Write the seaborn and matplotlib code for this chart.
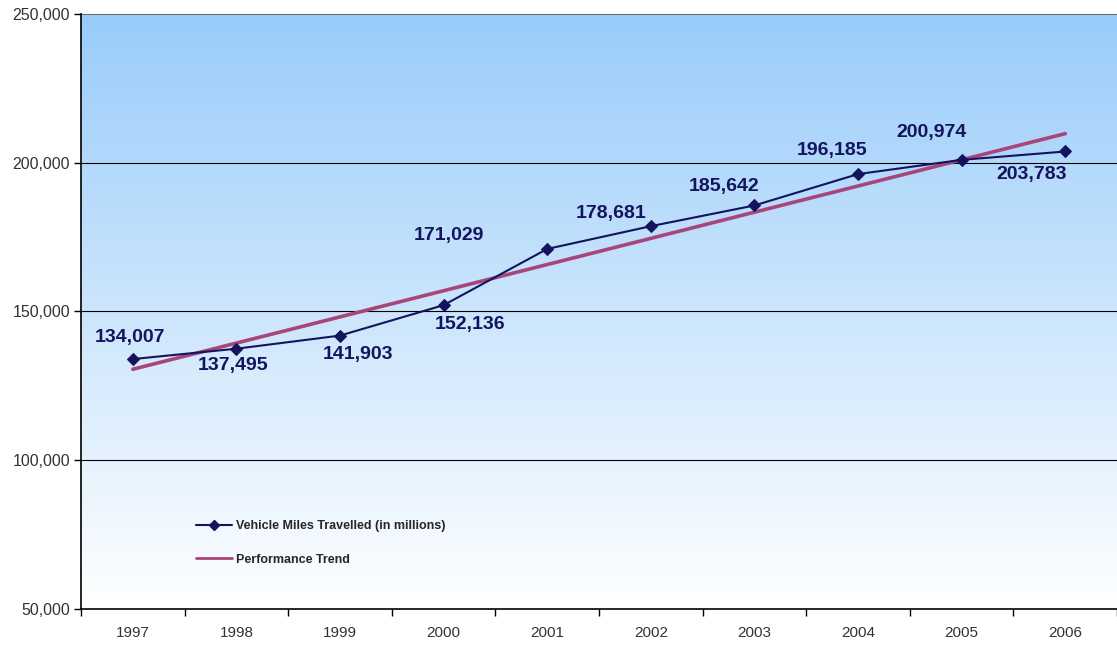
import numpy as np
import pandas as pd
import matplotlib
matplotlib.use("Agg")
import matplotlib.pyplot as plt
import seaborn as sns
from matplotlib.ticker import FixedLocator, FuncFormatter

sns.set_style("white")
plt.rcParams['font.family'] = ['Liberation Sans', 'DejaVu Sans']

# data
years = ["1997", "1998", "1999", "2000", "2001", "2002", "2003", "2004", "2005", "2006"]
vmt = [134007, 137495, 141903, 152136, 171029, 178681, 185642, 196185, 200974, 203783]

# label offsets (pixels) relative to each point
label_dx = [-3, -3, 18, 26, -98, -40, -30, -26, -30, -34]
label_dy = [22, -17, -19, -19, 13, 13, 19, 24, 27, -23]

df = pd.DataFrame({"idx": np.arange(len(years)), "vmt": vmt})

navy = "#14145e"
trend_col = "#a8457a"

fig = plt.figure(figsize=(11.17, 6.45), dpi=100)
ax = fig.add_axes([81 / 1117, 36 / 645, 1036 / 1117, 595 / 645])

# gradient background, light blue at top fading to white
grad = np.linspace(0, 1, 256).reshape(-1, 1)
top = np.array([0.60, 0.80, 0.98])
bot = np.array([1.0, 1.0, 1.0])
img = top[None, None, :] * (1 - grad[:, :, None]) + bot[None, None, :] * grad[:, :, None]
ax.imshow(img, extent=[-0.5, 9.5, 50000, 250000], aspect="auto", zorder=0)

for v in [100000, 150000, 200000]:
    ax.axhline(v, color="black", lw=0.8, zorder=1)
ax.axhline(250000, color="#555555", lw=1.2, zorder=1)

sns.regplot(data=df, x="idx", y="vmt", scatter=False, ci=None, ax=ax,
            line_kws={"color": trend_col, "lw": 2.6, "zorder": 3}, label="_nolegend_")
sns.lineplot(data=df, x="idx", y="vmt", ax=ax, color=navy, marker="D", markersize=6,
             markeredgecolor=navy, lw=1.5, zorder=4, label="_nolegend_")

for i, v in enumerate(vmt):
    ax.annotate(f"{v:,}", (i, v), xytext=(label_dx[i], label_dy[i]), textcoords="offset pixels",
                ha="center", va="center", fontsize=14, fontweight="bold", color=navy, zorder=5)

# legend
h1, = ax.plot([], [], color=navy, marker="D", markersize=5, lw=1.5)
h2, = ax.plot([], [], color=trend_col, lw=2)
leg = ax.legend([h1, h2], ["Vehicle Miles Travelled (in millions)", "Performance Trend"],
                loc="upper left", bbox_to_anchor=(0.100, 0.168), frameon=False,
                prop={"weight": "bold", "size": 9}, handlelength=2.9, labelspacing=1.7,
                handletextpad=0.3)

ax.set_xlim(-0.5, 9.5)
ax.set_ylim(50000, 250000)
ax.set_xticks(np.arange(len(years)))
ax.set_xticklabels(years)
ax.xaxis.set_minor_locator(FixedLocator(np.arange(-0.5, 10, 1)))
ax.tick_params(axis="x", which="both", bottom=True)
ax.tick_params(axis="x", which="major", length=0, pad=12, labelsize=11, labelcolor="#333333")
ax.tick_params(axis="x", which="minor", length=5, width=1, color="black", direction="out")
ax.set_yticks([50000, 100000, 150000, 200000, 250000])
ax.yaxis.set_major_formatter(FuncFormatter(lambda v, p: f"{int(v):,}"))
ax.tick_params(axis="y", left=True, length=5, width=1, color="black", direction="out",
               labelsize=11.5, labelcolor="#333333", pad=3)
ax.set_xlabel("")
ax.set_ylabel("")
for s in ["top", "right"]:
    ax.spines[s].set_visible(False)
for s in ["left", "bottom"]:
    ax.spines[s].set_color("black")
    ax.spines[s].set_linewidth(1.2)

fig.savefig("out.png", dpi=100)
